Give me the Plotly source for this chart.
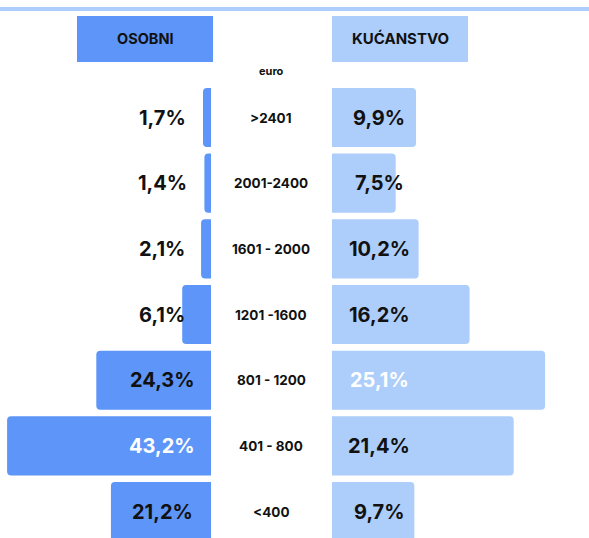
import plotly.graph_objects as go

categories = [">2401", "2001-2400", "1601 - 2000", "1201 -1600", "801 - 1200", "401 - 800", "<400"]
osobni = [1.7, 1.4, 2.1, 6.1, 24.3, 43.2, 21.2]
kucanstvo = [9.9, 7.5, 10.2, 16.2, 25.1, 21.4, 9.7]
osobni_labels = ["1,7%", "1,4%", "2,1%", "6,1%", "24,3%", "43,2%", "21,2%"]
kucanstvo_labels = ["9,9%", "7,5%", "10,2%", "16,2%", "25,1%", "21,4%", "9,7%"]
osobni_label_colors = ["#111", "#111", "#111", "#111", "#111", "#ffffff", "#111"]
kucanstvo_label_colors = ["#111", "#111", "#111", "#111", "#ffffff", "#111", "#111"]

W, H = 589, 538
C_LEFT = "#5e95f8"
C_RIGHT = "#adcdfa"
FONT = "Inter"

left_base_px = 211
right_base_px = 332
left_scale = 4.72   # px per %
right_scale = 8.49

fig = go.Figure()
fig.add_trace(go.Bar(
    y=categories, x=osobni, orientation="h", xaxis="x", yaxis="y",
    marker=dict(color=C_LEFT, cornerradius=4, line=dict(width=0)),
    width=0.9, hoverinfo="skip", showlegend=False))
fig.add_trace(go.Bar(
    y=categories, x=kucanstvo, orientation="h", xaxis="x2", yaxis="y",
    marker=dict(color=C_RIGHT, cornerradius=4, line=dict(width=0)),
    width=0.9, hoverinfo="skip", showlegend=False))

pitch = 65.67
top_center = 117.5
v_top = -top_center / pitch
v_bot = v_top + H / pitch

fig.update_layout(
    width=W, height=H,
    margin=dict(l=0, r=0, t=0, b=0),
    paper_bgcolor="white", plot_bgcolor="white",
    xaxis=dict(domain=[0, left_base_px / W], range=[left_base_px / left_scale, 0],
               visible=False, fixedrange=True),
    xaxis2=dict(domain=[right_base_px / W, 1], range=[0, (W - right_base_px) / right_scale],
                visible=False, fixedrange=True),
    yaxis=dict(type="category", categoryorder="array", categoryarray=categories,
               range=[v_bot, v_top], visible=False, fixedrange=True),
    barmode="overlay",
)

# value labels and category labels
for i, c in enumerate(categories):
    fig.add_annotation(x=162 / W, y=c, xref="paper", yref="y",
                       text=f"<b>{osobni_labels[i]}</b>", showarrow=False,
                       xanchor="center", yanchor="middle",
                       font=dict(family=FONT, size=20, color=osobni_label_colors[i]))
    fig.add_annotation(x=379 / W, y=c, xref="paper", yref="y",
                       text=f"<b>{kucanstvo_labels[i]}</b>", showarrow=False,
                       xanchor="center", yanchor="middle",
                       font=dict(family=FONT, size=20, color=kucanstvo_label_colors[i]))
    fig.add_annotation(x=271 / W, y=c, xref="paper", yref="y",
                       text=f"<b>{c}</b>", showarrow=False,
                       xanchor="center", yanchor="middle",
                       font=dict(family=FONT, size=13.5, color="#111"))

# header
fig.add_shape(type="line", xref="paper", yref="paper", x0=0, x1=1,
              y0=1 - 9 / H, y1=1 - 9 / H, line=dict(color=C_RIGHT, width=4))
fig.add_shape(type="rect", xref="paper", yref="paper", x0=77 / W, x1=213 / W,
              y0=1 - 62 / H, y1=1 - 16 / H, fillcolor=C_LEFT, line=dict(width=0))
fig.add_shape(type="rect", xref="paper", yref="paper", x0=332 / W, x1=468 / W,
              y0=1 - 62 / H, y1=1 - 16 / H, fillcolor=C_RIGHT, line=dict(width=0))
fig.add_annotation(x=145 / W, y=1 - 39 / H, xref="paper", yref="paper", text="<b>OSOBNI</b>",
                   showarrow=False, xanchor="center", yanchor="middle",
                   font=dict(family=FONT, size=14.5, color="#111"))
fig.add_annotation(x=400 / W, y=1 - 39 / H, xref="paper", yref="paper", text="<b>KUĆANSTVO</b>",
                   showarrow=False, xanchor="center", yanchor="middle",
                   font=dict(family=FONT, size=15, color="#111"))
fig.add_annotation(x=271 / W, y=1 - 71 / H, xref="paper", yref="paper", text="<b>euro</b>",
                   showarrow=False, xanchor="center", yanchor="middle",
                   font=dict(family=FONT, size=11, color="#111"))

fig.write_html("out.html", config={"displayModeBar": False},
               post_script="document.body.style.margin='0';document.body.style.overflow='hidden';")
